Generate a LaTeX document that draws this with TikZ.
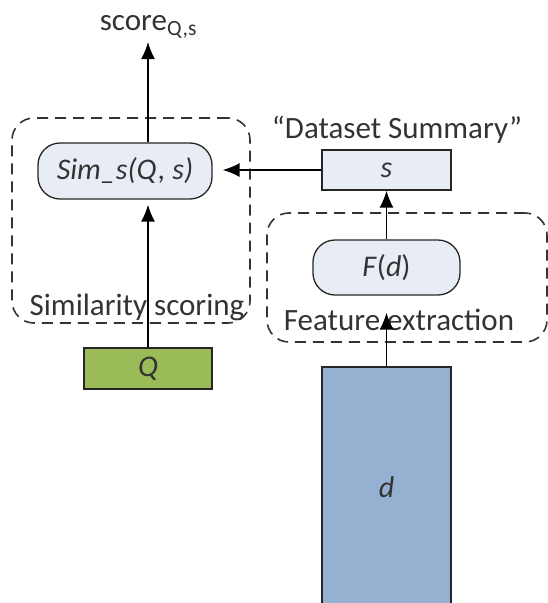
\documentclass[tikz,border=0pt]{standalone}
\usepackage{fontspec}
\setmainfont{Carlito}
\usetikzlibrary{arrows.meta}
\definecolor{txt}{HTML}{333333}
\definecolor{boxfill}{HTML}{E8EDF5}
\definecolor{qfill}{HTML}{9BBB59}
\definecolor{dfill}{HTML}{95B0D1}
\definecolor{dashc}{HTML}{333333}
\begin{document}
\begin{tikzpicture}[x=1pt,y=-1pt,
  lbl/.style={text=txt, font=\fontsize{31}{35}\selectfont, inner sep=0pt},
  procbox/.style={draw=black!85, line width=1.3pt, fill=boxfill, rounded corners=22pt, text=txt, font=\fontsize{30}{34}\selectfont\itshape, inner sep=0pt},
  databox/.style={draw=black!85, line width=1.3pt, text=txt, font=\fontsize{30}{34}\selectfont\itshape, inner sep=0pt},
  groupbox/.style={draw=dashc, line width=1.6pt, dash pattern=on 11pt off 7pt, rounded corners=22pt, inner sep=0pt},
  arr/.style={draw=black, line width=1.5pt, -{Latex[length=17pt,width=14pt]}}
]
\useasboundingbox (0,0) rectangle (548,603);
\clip (0,0) rectangle (548,603);

% group boxes
\node[groupbox, minimum width=238pt, minimum height=205pt] (simgrp) at (131,220.5) {};
\node[groupbox, minimum width=280pt, minimum height=129pt] (featgrp) at (407,277.5) {};

% nodes
\node[procbox, minimum width=174pt, minimum height=56pt] (sim) at (125,171) {Sim\_s(Q, s)};
\node[databox, fill=boxfill, minimum width=129pt, minimum height=40pt] (s) at (386.5,170) {s};
\node[procbox, minimum width=147pt, minimum height=55pt] (F) at (386.5,267.5) {F\textup{(}d\textup{)}};
\node[databox, fill=qfill, minimum width=128pt, minimum height=41pt] (Q) at (148,368.5) {Q};
\node[databox, fill=dfill, minimum width=129pt, minimum height=240pt] (d) at (386.5,487) {d};

% labels
\node[lbl, anchor=base] (score) at (148.5,30) {score\textsubscript{Q,s}};
\node[lbl, anchor=base] (dsum) at (397,138) {“Dataset Summary”};
\node[lbl, anchor=base] (simlbl) at (137,315) {Similarity\hspace{7pt}scoring};
\node[lbl, anchor=base] (featlbl) at (399,330) {Feature\hspace{7pt}extraction};

% connectors
\coordinate (scoretip) at (148,42);
\draw[arr] (Q.north |- sim.north) -- (scoretip);
\draw[arr, shorten >=5pt] (Q.north) -- (Q.north |- sim.south);
\draw[arr, shorten >=10pt] (s.west) -- (s.west -| sim.east);
\draw[arr] (F.north) -- (s.south);
\draw[arr, shorten >=17pt] (d.north) -- (F.south);
\end{tikzpicture}
\end{document}
